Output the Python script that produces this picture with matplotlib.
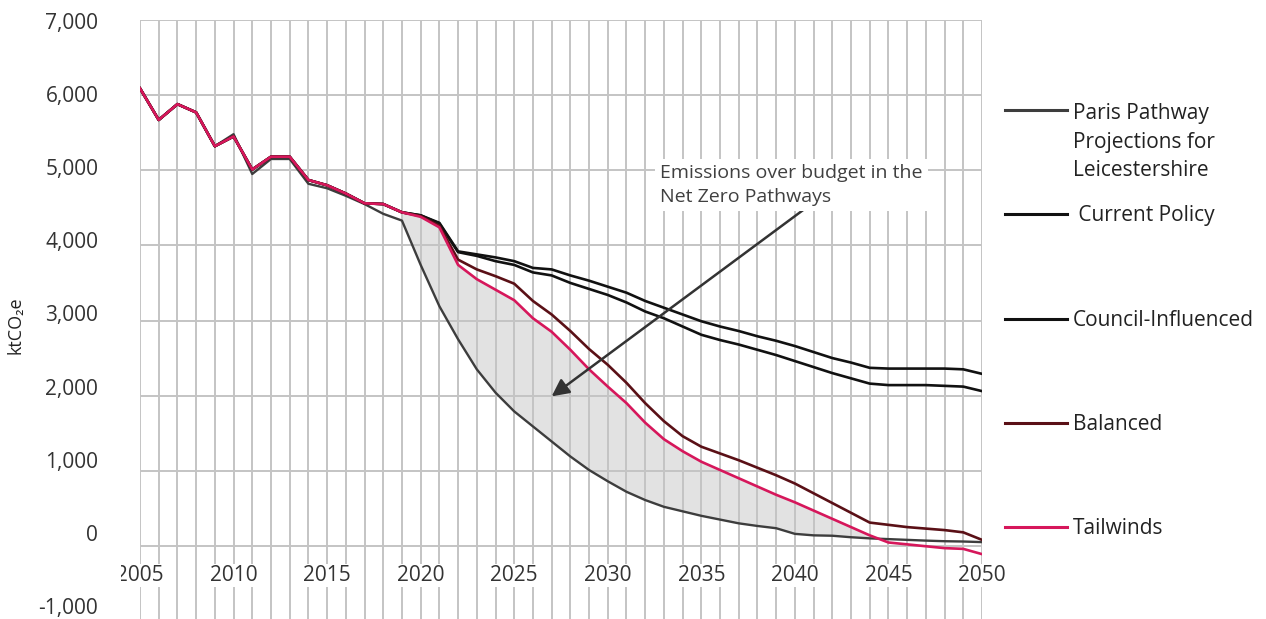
import matplotlib
matplotlib.use("Agg")
import matplotlib.pyplot as plt
from matplotlib.lines import Line2D
from matplotlib.transforms import ScaledTranslation, Bbox
import numpy as np

plt.rcParams['font.family'] = ['Open Sans', 'DejaVu Sans']

years = list(range(2005, 2051))

paris = [6090, 5670, 5880, 5770, 5320, 5480, 4950, 5150, 5150, 4820,
         4760, 4660, 4550, 4420, 4330, 3740, 3190, 2750, 2350, 2040,
         1790, 1590, 1390, 1190, 1010, 860, 720, 610, 520, 460,
         400, 350, 300, 265, 235, 160, 140, 135, 115, 100,
         90, 80, 70, 62, 58, 50]

current_policy = [6090, 5670, 5880, 5770, 5320, 5450, 5010, 5180, 5180, 4870,
                  4800, 4690, 4560, 4550, 4440, 4400, 4300, 3920, 3880, 3840,
                  3790, 3700, 3680, 3600, 3530, 3450, 3370, 3260, 3170, 3080,
                  2990, 2920, 2860, 2790, 2730, 2660, 2580, 2500, 2440, 2370,
                  2360, 2360, 2360, 2360, 2350, 2290]

council_influenced = [6090, 5670, 5880, 5770, 5320, 5450, 5010, 5180, 5180, 4870,
                      4800, 4690, 4560, 4550, 4440, 4400, 4290, 3910, 3860, 3790,
                      3740, 3640, 3600, 3500, 3420, 3340, 3240, 3120, 3030, 2920,
                      2810, 2740, 2680, 2610, 2540, 2460, 2380, 2300, 2230, 2160,
                      2140, 2140, 2140, 2130, 2120, 2060]

balanced = [6090, 5670, 5880, 5770, 5320, 5450, 5010, 5180, 5180, 4870,
            4800, 4690, 4560, 4550, 4440, 4390, 4260, 3810, 3680, 3590,
            3490, 3260, 3080, 2860, 2620, 2410, 2170, 1900, 1660, 1460,
            1320, 1230, 1140, 1040, 940, 830, 700, 570, 440, 310,
            280, 250, 230, 210, 180, 80]

tailwinds = [6090, 5670, 5880, 5770, 5320, 5450, 5010, 5180, 5180, 4870,
             4800, 4690, 4560, 4550, 4440, 4380, 4240, 3740, 3550, 3410,
             3270, 3030, 2850, 2610, 2350, 2120, 1900, 1640, 1420, 1260,
             1120, 1010, 900, 790, 680, 580, 470, 360, 250, 140,
             45, 20, -5, -30, -40, -110]

series_names = ["Paris Pathway\nProjections for\nLeicestershire", " Current Policy",
                "Council-Influenced", "Balanced", "Tailwinds"]
series_colors = ["#3d3d3d", "#111111", "#111111", "#5a1016", "#d6175b"]

y_ticks = list(range(-1000, 7001, 1000))
y_ticklabels = ["-1,000", "0", "1,000", "2,000", "3,000", "4,000", "5,000", "6,000", "7,000"]
x_labels = [str(y) if y % 5 == 0 else "" for y in years]

annotation_text = "Emissions over budget in the\nNet Zero Pathways"

W, H = 1266, 619
fig = plt.figure(figsize=(W / 100, H / 100), dpi=100)
ax = fig.add_axes([140 / W, (H - 621) / H, 842 / W, 601 / H])

ax.set_xlim(2005, 2050)
ax.set_ylim(-1000, 7000)

yrs = np.array(years)
p = np.array(paris)
t = np.array(tailwinds)
mask = (yrs >= 2019) & (yrs <= 2046)
ax.fill_between(yrs[mask], p[mask], t[mask], where=t[mask] >= p[mask], interpolate=True,
                color="#e2e2e2", lw=0, zorder=0.3)

grid_color = "#c4c4c4"
for yv in years:
    ax.axvline(yv, color=grid_color, lw=1.4, zorder=0.35)

data = [paris, current_policy, council_influenced, balanced, tailwinds]
lws = [1.7, 1.9, 1.9, 1.9, 1.9]
for vals, c, lw in zip(data, series_colors, lws):
    ax.plot(years, vals, color=c, lw=lw, zorder=2, solid_joinstyle='round')

ax.set_xticks(years)
ax.set_xticklabels(x_labels)
ax.set_yticks(y_ticks)
ax.set_yticklabels(y_ticklabels)
ax.set_axisbelow(True)
ax.grid(True, axis='y', color=grid_color, lw=1.4)
for s in ax.spines.values():
    s.set_visible(False)
ax.spines['bottom'].set_position(('data', 0))
ax.tick_params(axis='x', length=0, pad=14, labelsize=15, labelcolor="#333333")
ax.tick_params(axis='y', length=0, pad=30, labelsize=15, labelcolor="#333333")

for lbl in ax.get_xticklabels():
    if lbl.get_text():
        lbl.set_bbox(dict(boxstyle='square,pad=0.05', facecolor='white', edgecolor='none'))
first = ax.get_xticklabels()[0]
first.set_clip_on(True)
first.set_clip_box(Bbox([[121, 0], [400, H]]))

for tk, v in zip(ax.yaxis.get_major_ticks(), y_ticks):
    up = (7000 - v) / 8000 * 16 - 1
    tk.label1.set_transform(tk.label1.get_transform() + ScaledTranslation(0, up / 100, fig.dpi_scale_trans))

ax.set_ylabel("ktCO\u2082e", fontsize=13, color="#222222")
ax.yaxis.set_label_coords((25 - 140) / 842, (621 - 325) / 601)

ax.annotate("", xy=(2027.0, 1990), xytext=(2040.6, 4500),
            arrowprops=dict(arrowstyle='-|>', color="#333333", lw=1.8, mutation_scale=26,
                            shrinkA=0, shrinkB=0), zorder=5)
ax.text(2032.8, 4800, annotation_text, fontsize=14, color="#404040", va='center', ha='left',
        linespacing=1.45, zorder=6,
        bbox=dict(boxstyle='square,pad=0.25', facecolor='white', edgecolor='none'))

leg_y = [110, 214, 319, 423, 527]
for name, c, yy in zip(series_names, series_colors, leg_y):
    fy = 1 - yy / H
    fig.add_artist(Line2D([1005 / W, 1067 / W], [fy, fy], color=c, lw=2.2,
                          transform=fig.transFigure))
    if "\n" in name:
        fig.text(1073 / W, 1 - (yy - 7) / H, name, fontsize=15, color="#222222",
                 va='top', ha='left', linespacing=1.47)
    else:
        fig.text(1073 / W, 1 - (yy + 1) / H, name, fontsize=15, color="#222222",
                 va='center', ha='left')

fig.savefig("out.png", dpi=100)
